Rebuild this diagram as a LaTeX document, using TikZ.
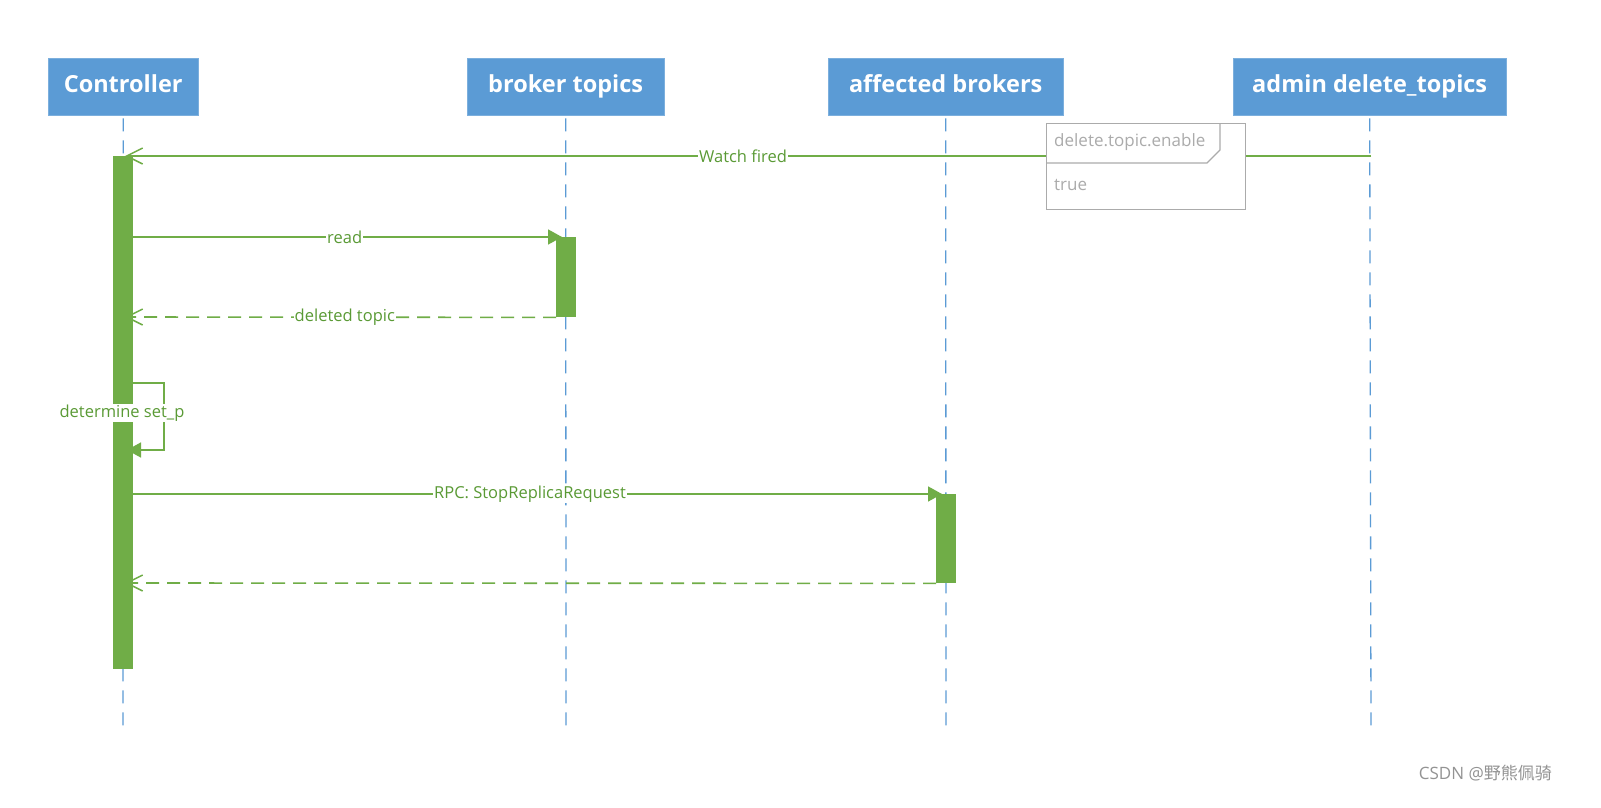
\documentclass[tikz,border=0pt]{standalone}
\usepackage{fontspec}
\setmainfont{Open Sans}
\newfontfamily\cjkfont{Noto Sans CJK SC}
\usetikzlibrary{arrows.meta}
\definecolor{hdrblue}{HTML}{5B9BD5}
\definecolor{lifeblue}{HTML}{5B9BD5}
\definecolor{actgreen}{HTML}{70AD47}
\definecolor{txtgreen}{HTML}{5A9A35}
\definecolor{notegray}{HTML}{ABABAB}
\tikzset{
  header/.style={fill=hdrblue, draw=hdrblue!80!white, text=white, font=\bfseries\fontsize{23.5}{28}\selectfont, inner sep=0pt, anchor=north west, text height=17pt, text depth=5pt},
  lifeline/.style={draw=lifeblue, line width=1.3pt, dash pattern=on 13pt off 9pt},
  actbar/.style={fill=actgreen, draw=none, inner sep=0pt, anchor=north west},
  msg/.style={draw=actgreen, line width=1.6pt, -{Triangle[length=14pt,width=15pt]}},
  reply/.style={draw=actgreen, line width=1.6pt, dash pattern=on 13pt off 8pt, -{Straight Barb[length=16pt,width=16pt,line width=1.5pt]}},
  async/.style={draw=actgreen, line width=1.6pt, -{Straight Barb[length=16pt,width=16pt,line width=1.5pt]}},
  mlabel/.style={fill=white, text=txtgreen, font=\fontsize{16.5}{19}\selectfont, inner sep=1pt},
  notetext/.style={text=notegray, font=\fontsize{17}{20}\selectfont, inner sep=0pt, anchor=west}
}
\begin{document}
\begin{tikzpicture}[x=1pt,y=-1pt]
\useasboundingbox[fill=white] (0,0) rectangle (1601,808);
% headers
\node[header, minimum width=150pt, minimum height=57pt] (hc) at (48,58) {Controller};
\node[header, minimum width=197pt, minimum height=57pt] (hb) at (467,58) {broker topics};
\node[header, minimum width=235pt, minimum height=57pt] (ha) at (828,58) {affected brokers};
\node[header, minimum width=273pt, minimum height=57pt] (hd) at (1233,58) {admin delete\_topics};
% lifeline ends
\coordinate (ec) at (123,732);
\coordinate (eb) at (566,732);
\coordinate (ea) at (946,732);
\coordinate (ed) at (1371,732);
\draw[lifeline] (hc.south) ++(0,3) -- (ec);
\draw[lifeline] (hb.south) ++(0,3) -- (eb);
\draw[lifeline] (ha.south) ++(0,3) -- (ea);
\draw[lifeline] (hd.south) ++(0,3) -- (ed);
% activation bars
\node[actbar, minimum width=20pt, minimum height=513pt] (ac) at (113,156) {};
\node[actbar, minimum width=20pt, minimum height=80pt] (ab) at (556,237) {};
\node[actbar, minimum width=20pt, minimum height=89pt] (aa) at (936,494) {};
% watch fired
\coordinate (wd) at (1371,156);
\coordinate (wc) at (125,156);
\draw[async] (wd) -- node[mlabel, pos=0.504] {Watch fired} (wc);
% read
\coordinate (r0) at (123,237);
\coordinate (r1) at (562,237);
\draw[msg] (r0) -- node[mlabel, pos=0.505] {read} (r1);
% deleted topic
\coordinate (d1) at (125,317);
\draw[reply] (ab.south west) -- node[mlabel, pos=0.49] {deleted topic} (d1);
% self loop
\coordinate (s0) at (123,383);
\coordinate (s1) at (164,383);
\coordinate (s2) at (164,450);
\coordinate (s3) at (127,450);
\draw[msg] (s0) -- (s1) -- (s2) -- (s3);
\node[mlabel] (sl) at (122,413) {determine set\_p};
% RPC
\coordinate (p0) at (123,494);
\coordinate (p1) at (942,494);
\draw[msg] (p0) -- node[mlabel, pos=0.497] {RPC: StopReplicaRequest} (p1);
% return
\coordinate (q1) at (125,583);
\draw[reply] (aa.south west) -- (q1);
% note
\node[draw=notegray, line width=1.3pt, fill=white, minimum width=199pt, minimum height=86pt, anchor=north west, inner sep=0pt] (note) at (1046,123) {};
\draw[draw=notegray, line width=1.3pt] (1046,163) -- (1207,163) -- (1220,150) -- (1220,123);
\node[notetext] (nt) at (1054,142) {delete.topic.enable};
\node[notetext] (nv) at (1054,185) {true};
% watermark
\node[text=gray!85, font=\fontsize{17}{20}\selectfont, inner sep=0pt, anchor=east] (wm) at (1552,773) {CSDN @\cjkfont 野熊佩骑};
\end{tikzpicture}
\end{document}
